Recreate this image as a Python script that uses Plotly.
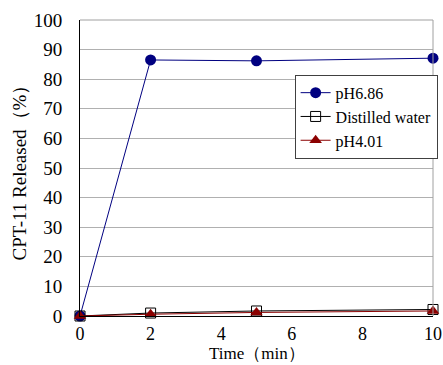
import plotly.graph_objects as go

time = [0, 2, 5, 10]
ph686 = [0, 86.5, 86.2, 87.1]
water = [0, 1.0, 1.7, 2.2]
ph401 = [0, 0.6, 1.2, 1.7]
x_ticks = [0, 2, 4, 6, 8, 10]
y_ticks = [0, 10, 20, 30, 40, 50, 60, 70, 80, 90, 100]
x_title = "Time（min）"
y_title = "CPT-11 Released（%）"

FONT = "Liberation Serif"

fig = go.Figure()
fig.add_trace(go.Scatter(x=time, y=ph686, name="pH6.86", mode="lines+markers",
                         line=dict(color="#000080", width=1),
                         marker=dict(symbol="circle", size=11, color="#000080"),
                         cliponaxis=False))
fig.add_trace(go.Scatter(x=time, y=water, name="Distilled water", mode="lines+markers",
                         line=dict(color="#000000", width=1),
                         marker=dict(symbol="square-open", size=10, color="#000000",
                                     line=dict(width=1)),
                         cliponaxis=False))
fig.add_trace(go.Scatter(x=time, y=ph401, name="pH4.01", mode="lines+markers",
                         line=dict(color="#8B0000", width=1),
                         marker=dict(symbol="triangle-up", size=11, color="#8B0000"),
                         cliponaxis=False))

fig.update_layout(
    template="none",
    width=443, height=365,
    margin=dict(l=80, r=10, t=20, b=49, autoexpand=False),
    paper_bgcolor="white", plot_bgcolor="white",
    font=dict(family=FONT, size=18, color="black"),
    showlegend=True,
    legend=dict(x=0.608, y=0.815, xanchor="left", yanchor="top",
                bgcolor="white", bordercolor="#404040", borderwidth=1,
                font=dict(family=FONT, size=16, color="black"), tracegroupgap=0,
                itemwidth=30),
    xaxis=dict(range=[0, 10], tickvals=x_ticks, showgrid=False, zeroline=False,
               showline=True, linecolor="black", linewidth=1, ticks="",
               automargin=False, ticklabelstandoff=1,
               tickfont=dict(family=FONT, size=18, color="black"),
               mirror=False),
    yaxis=dict(range=[0, 100], tickvals=y_ticks, showgrid=True, gridcolor="#b0b0b0",
               gridwidth=1, zeroline=False, showline=True, linecolor="black",
               linewidth=1, ticks="", ticklen=0, automargin=False,
               ticklabelstandoff=13,
               tickfont=dict(family=FONT, size=19, color="black"),
               title=dict(text=y_title, standoff=2,
                          font=dict(family=FONT, size=19, color="black"))),
)
fig.add_annotation(text=x_title, xref="paper", yref="paper", x=0.5, y=0,
                   xanchor="center", yanchor="top", yshift=-27, showarrow=False,
                   borderpad=0, font=dict(family=FONT, size=17, color="black"))
fig.add_shape(type="line", xref="paper", yref="paper", x0=1, x1=1, y0=0, y1=1,
              line=dict(color="#a0a0a0", width=1))
fig.add_shape(type="line", xref="paper", yref="paper", x0=0, x1=1, y0=1, y1=1,
              line=dict(color="#a0a0a0", width=1))

fig.write_html("out.html", config=dict(displayModeBar=False),
               post_script="document.body.style.margin='0';")
